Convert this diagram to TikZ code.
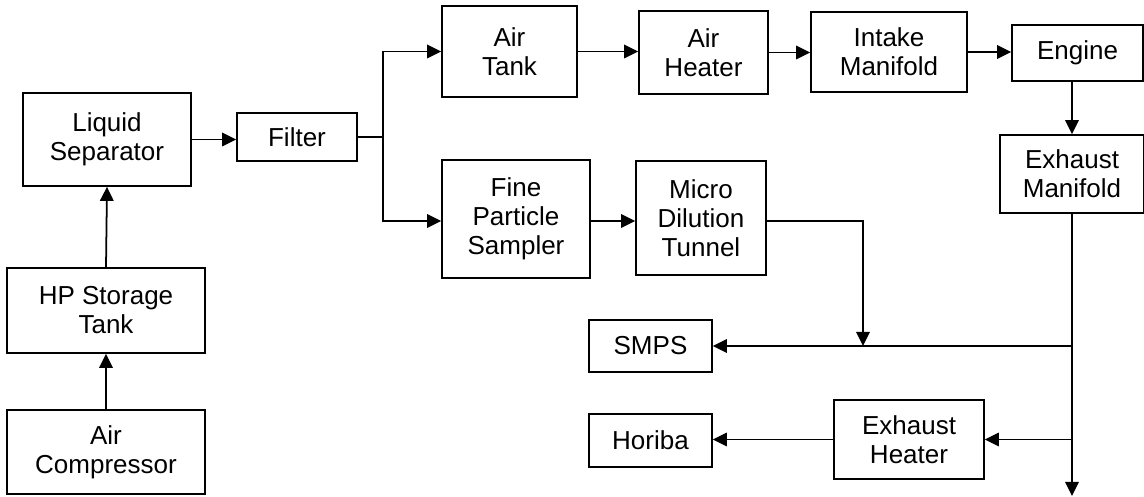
\documentclass[tikz,border=0pt]{standalone}
\usepackage{fontspec}
\setmainfont{Liberation Sans}
\usetikzlibrary{arrows.meta}
\tikzset{
    box/.style = {rectangle, draw, line width=1pt, align=center, inner sep=0pt, fill=white},
    flow/.style = {-{Triangle[length=2.8mm, width=2.7mm]}, line width=1pt}
}

\begin{document}
\begin{tikzpicture}[every node/.style={font=\fontsize{14.8}{16.5}\selectfont}]
\useasboundingbox (0,0) rectangle (22.88,9.94);

% Supply column
\node[box, minimum width=3.36cm, minimum height=1.86cm] (LS) at (2.14, 7.15) {Liquid\\Separator};
\node[box, minimum width=3.96cm, minimum height=1.70cm] (HP) at (2.12, 3.73) {HP Storage\\Tank};
\node[box, minimum width=3.96cm, minimum height=1.68cm] (AC) at (2.12, 0.90) {Air\\Compressor};
\node[box, minimum width=2.40cm, minimum height=0.96cm] (FIL) at (5.94, 7.20) {Filter};

% Intake line
\node[box, minimum width=2.70cm, minimum height=1.82cm] (AT) at (10.19, 8.91) {Air\\Tank};
\node[box, minimum width=2.58cm, minimum height=1.66cm] (AH) at (14.07, 8.89) {Air\\Heater};
\node[box, minimum width=3.12cm, minimum height=1.60cm] (IM) at (17.78, 8.90) {Intake\\Manifold};
\node[box, minimum width=2.62cm, minimum height=1.12cm] (ENG) at (21.55, 8.88) {Engine};
\node[box, minimum width=2.88cm, minimum height=1.56cm] (EM) at (21.44, 6.46) {Exhaust\\Manifold};

% Sampling line
\node[box, minimum width=2.96cm, minimum height=2.36cm] (FPS) at (10.32, 5.56) {Fine\\Particle\\Sampler};
\node[box, minimum width=2.60cm, minimum height=2.28cm] (MDT) at (14.02, 5.58) {Micro\\Dilution\\Tunnel};

% Analysers
\node[box, minimum width=2.46cm, minimum height=1.04cm] (SMPS) at (13.01, 3.02) {SMPS};
\node[box, minimum width=2.46cm, minimum height=1.06cm] (HOR) at (13.01, 1.13) {Horiba};
\node[box, minimum width=3.00cm, minimum height=1.58cm] (EH) at (18.18, 1.15) {Exhaust\\Heater};

% Junctions
\coordinate (split) at (7.66, 7.20);
\coordinate (join) at (17.26, 3.02);
\coordinate (outlet) at (21.44, 0.02);
\coordinate (tapA) at (outlet |- SMPS.east);
\coordinate (tapB) at (outlet |- EH.east);

% AC -> HP -> LS -> Filter
\draw[flow] (AC.north) -- (HP.south);
\draw[flow] (HP.north) -- (LS.south);
\draw[flow] (LS.east) -- (LS.east -| FIL.west);

% Filter -> split
\draw[line width=1pt] (FIL.east) -- (split);
\draw[flow] (split) |- (AT.west);
\draw[flow] (split) |- ([yshift=-0.04cm]FPS.west);

% intake chain
\draw[flow] (AT.east) -- (AT.east -| AH.west);
\draw[flow] (AH.east) -- (AH.east -| IM.west);
\draw[flow] (IM.east) -- (IM.east -| ENG.west);
\draw[flow] (ENG.south -| EM.north) -- (EM.north);

% sampler chain
\draw[flow] ([yshift=-0.04cm]FPS.east) -- ([yshift=-0.04cm]FPS.east -| MDT.west);
\draw[flow] ([yshift=-0.06cm]MDT.east) -| (join);

% exhaust trunk
\draw[flow] (EM.south) -- (outlet);
\draw[flow] (tapA) -- (SMPS.east);
\draw[flow] (tapB) -- (EH.east);
\draw[flow] (EH.west) -- (HOR.east |- EH.west);
\end{tikzpicture}
\end{document}
